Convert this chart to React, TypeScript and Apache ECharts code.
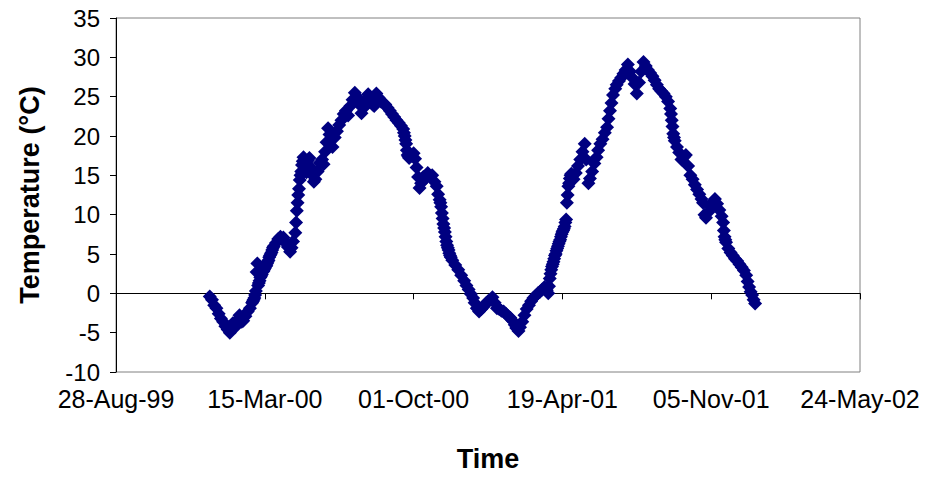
import React, { useEffect, useRef } from "react";
import * as echarts from "echarts";

// Days counted from 28-Aug-99 (the axis start)
const dayOffsets = [
  126, 129, 132, 135, 138, 141, 144, 147, 150, 153,
  155, 157, 160, 163, 166, 169, 171, 174, 177, 180,
  183, 186, 188, 189, 190, 191, 193, 196, 199, 202,
  205, 209, 212, 215, 218, 221, 225, 228, 231, 234,
  236, 238, 241, 242, 243, 244, 245, 246, 247, 249,
  250, 252, 254, 256, 258, 260, 262, 264, 266, 268,
  271, 274, 277, 279, 281, 283, 285, 287, 289, 291,
  294, 297, 300, 303, 306, 309, 312, 315, 318, 321,
  324, 327, 330, 333, 336, 339, 342, 345, 347, 350,
  353, 356, 359, 362, 365, 368, 371, 374, 377, 380,
  383, 386, 388, 390, 392, 394, 397, 400, 402, 404,
  406, 408, 410, 413, 416, 419, 422, 425, 428, 431,
  433, 435, 437, 438, 440, 442, 444, 447, 449, 452,
  456, 460, 464, 468, 471, 474, 477, 480, 482, 485,
  488, 491, 494, 497, 500, 503, 506, 509, 512, 515,
  518, 521, 524, 527, 530, 533, 536, 538, 541, 543,
  546, 549, 552, 555, 558, 561, 564, 567, 570, 573,
  576, 579, 581, 583, 585, 588, 591, 594, 597, 600,
  603, 605, 606, 608, 610, 612, 615, 618, 621, 624,
  627, 630, 632, 635, 637, 640, 643, 646, 648, 651,
  654, 657, 660, 662, 664, 666, 668, 671, 673, 676,
  679, 682, 685, 688, 691, 694, 697, 700, 703, 706,
  709, 712, 715, 718, 721, 724, 727, 730, 733, 736,
  739, 742, 745, 747, 749, 751, 754, 757, 760, 763,
  766, 769, 772, 775, 778, 781, 784, 787, 789, 791,
  793, 796, 799, 802, 805, 808, 811, 814, 816, 818,
  820, 823, 826, 829, 832, 835, 838, 841, 844, 847,
  849, 851, 853, 855, 857, 859,
];

const temperatures = [
  -0.4, -0.8, -1.5, -1.9, -2.6, -3.2, -3.6, -4.2, -4.6, -5.0,
  -4.4, -3.8, -4.3, -3.4, -2.8, -3.6, -3.5, -2.9, -2.3, -1.9,
  -1.2, -0.6, 0.3, 2.7, 3.8, 1.0, 1.6, 2.4, 3.0, 3.5,
  4.2, 5.2, 6.0, 6.4, 6.9, 7.2, 7.1, 6.4, 5.9, 5.3,
  5.8, 6.6, 7.7, 9.0, 10.5, 11.5, 12.5, 13.3, 14.4, 15.5,
  16.3, 17.3, 16.5, 15.4, 16.9, 17.2, 16.0, 15.0, 14.2, 14.5,
  15.5, 16.6, 17.0, 16.4, 18.0, 19.2, 21.0, 20.2, 19.5, 18.6,
  19.8, 20.6, 21.4, 22.0, 22.8, 23.2, 22.6, 23.8, 24.6, 25.5,
  25.0, 24.0, 22.9, 23.6, 24.5, 25.3, 24.8, 24.0, 23.8, 25.4,
  24.9, 24.4, 24.2, 24.0, 23.6, 23.2, 22.8, 22.4, 22.0, 21.7,
  21.3, 20.9, 20.0, 19.0, 17.6, 17.2, 17.5, 17.8, 17.1, 16.0,
  14.8, 13.4, 14.0, 14.8, 14.6, 15.3, 14.9, 15.0, 14.2, 13.6,
  12.6, 11.9, 11.0, 10.2, 8.8, 7.8, 6.6, 5.5, 4.8, 4.2,
  3.6, 3.0, 2.3, 1.6, 1.0, 0.5, -0.1, -0.6, -1.2, -1.9,
  -2.3, -2.0, -1.7, -1.3, -1.0, -0.8, -0.5, -1.2, -1.9, -2.0,
  -2.2, -2.3, -2.6, -2.9, -3.1, -3.5, -4.0, -4.4, -4.8, -4.3,
  -3.6, -2.8, -2.0, -1.5, -1.0, -0.6, -0.3, 0.0, 0.2, 0.5,
  0.8, 0.4, 0.0, 1.9, 3.0, 4.0, 5.0, 6.0, 6.8, 7.8,
  8.5, 9.4, 11.5, 13.6, 14.6, 15.2, 14.5, 15.3, 16.2, 17.0,
  18.0, 19.0, 17.0, 14.0, 14.6, 15.5, 16.5, 17.3, 18.2, 19.0,
  19.6, 20.4, 21.1, 22.2, 23.2, 24.2, 25.2, 26.0, 26.5, 27.0,
  27.4, 27.9, 28.4, 29.1, 28.2, 27.4, 26.6, 25.4, 26.8, 28.2,
  29.4, 28.9, 28.4, 28.0, 27.6, 27.1, 26.5, 26.0, 25.7, 25.4,
  25.0, 24.4, 23.5, 22.0, 20.3, 19.4, 18.6, 17.9, 17.0, 17.3,
  17.6, 16.2, 15.0, 14.5, 13.8, 13.2, 12.6, 12.0, 11.5, 10.0,
  9.6, 10.3, 11.0, 11.6, 12.0, 11.4, 10.6, 9.8, 9.0, 7.2,
  6.5, 5.7, 5.2, 4.8, 4.4, 4.1, 3.7, 3.3, 2.9, 2.3,
  1.5, 0.8, 0.2, -0.2, -0.8, -1.3,
];

// Further daily readings in the steep, densely packed stretches
const extraDays = [
  436, 439, 441, 443, 445, 446, 448, 450,
  582, 584, 586, 587, 589, 590, 592, 593, 595, 596, 598, 599, 601, 602, 604, 607, 609, 611,
  387, 389, 391, 393,
  746, 748, 750,
  817, 819,
  248, 251,
  184, 185, 187,
  192, 194, 195, 197, 198, 200, 201, 203, 204, 206, 207, 208, 210, 211,
];

const extraTemps = [
  11.5, 9.5, 8.3, 7.2, 6.1, 5.8, 5.1, 4.6,
  0.9, 2.5, 3.4, 3.7, 4.4, 4.8, 5.4, 5.7, 6.3, 6.6, 7.2, 7.5, 8.0, 8.2, 9.0, 12.5, 14.0, 15.0,
  20.4, 19.5, 18.2, 17.4,
  22.8, 21.2, 19.8,
  8.0, 6.8,
  15.0, 16.8,
  -1.0, -0.8, -0.2,
  1.3, 2.0, 2.2, 2.7, 2.8, 3.2, 3.4, 3.8, 4.0, 4.6, 4.8, 5.0, 5.5, 5.8,
];

const xMin = 0;
const xMax = 1000;
const xStep = 200;
const yMin = -10;
const yMax = 35;
const yStep = 5;

const MONTHS = ["Jan", "Feb", "Mar", "Apr", "May", "Jun", "Jul", "Aug", "Sep", "Oct", "Nov", "Dec"];
const START_MS = Date.UTC(1999, 7, 28);

function formatDay(v: number): string {
  const d = new Date(START_MS + Math.round(v) * 86400000);
  const dd = String(d.getUTCDate()).padStart(2, "0");
  const yy = String(d.getUTCFullYear() % 100).padStart(2, "0");
  return `${dd}-${MONTHS[d.getUTCMonth()]}-${yy}`;
}

const FONT = "'Liberation Sans', Arial, Helvetica, sans-serif";

export default function App() {
  const ref = useRef<HTMLDivElement>(null);

  useEffect(() => {
    if (!ref.current) return;
    const chart = echarts.init(ref.current, undefined, { renderer: "svg" });
    const points = dayOffsets
      .map((d, i) => [d, temperatures[i]])
      .concat(extraDays.map((d, i) => [d, extraTemps[i]]));
    chart.setOption({
      animation: false,
      backgroundColor: "#ffffff",
      grid: {
        left: 116,
        right: 67,
        top: 18,
        bottom: 100,
        show: true,
        borderColor: "#808080",
        borderWidth: 1,
        backgroundColor: "transparent",
      },
      xAxis: [
        {
          type: "value",
          min: xMin,
          max: xMax,
          interval: xStep,
          axisLine: { show: true, onZero: true, lineStyle: { color: "#000000", width: 1 } },
          axisTick: { show: true, inside: false, length: 6, lineStyle: { color: "#000000" } },
          axisLabel: { show: false },
          splitLine: { show: false },
        },
        {
          type: "value",
          position: "bottom",
          min: xMin,
          max: xMax,
          interval: xStep,
          axisLine: { show: false, onZero: false },
          axisTick: { show: false },
          splitLine: { show: false },
          axisLabel: {
            show: true,
            margin: 14,
            color: "#000000",
            fontSize: 25,
            fontFamily: FONT,
            formatter: (v: number) => formatDay(v),
          },
          name: "Time",
          nameLocation: "middle",
          nameGap: 73,
          nameTextStyle: {
            color: "#000000",
            fontSize: 27,
            fontWeight: "bold",
            fontFamily: FONT,
            verticalAlign: "top",
          },
        },
      ],
      yAxis: {
        type: "value",
        min: yMin,
        max: yMax,
        interval: yStep,
        axisLine: { show: true, onZero: false, lineStyle: { color: "#000000", width: 1 } },
        axisTick: { show: true, inside: false, length: 6, lineStyle: { color: "#000000" } },
        splitLine: { show: false },
        axisLabel: {
          margin: 16,
          color: "#000000",
          fontSize: 24,
          fontFamily: FONT,
        },
        name: "Temperature (°C)",
        nameLocation: "middle",
        nameGap: 73,
        nameTextStyle: {
          color: "#000000",
          fontSize: 27,
          fontWeight: "bold",
          fontFamily: FONT,
        },
      },
      series: [
        {
          type: "scatter",
          xAxisIndex: 0,
          yAxisIndex: 0,
          data: points,
          symbol: "diamond",
          symbolSize: 14,
          itemStyle: { color: "#000080", borderWidth: 0, opacity: 1 },
          emphasis: { disabled: true },
        },
      ],
    });
    return () => {
      chart.dispose();
    };
  }, []);

  return (
    <div
      ref={ref}
      style={{ position: "fixed", left: 0, top: 0, width: 927, height: 477, background: "#ffffff" }}
    />
  );
}
